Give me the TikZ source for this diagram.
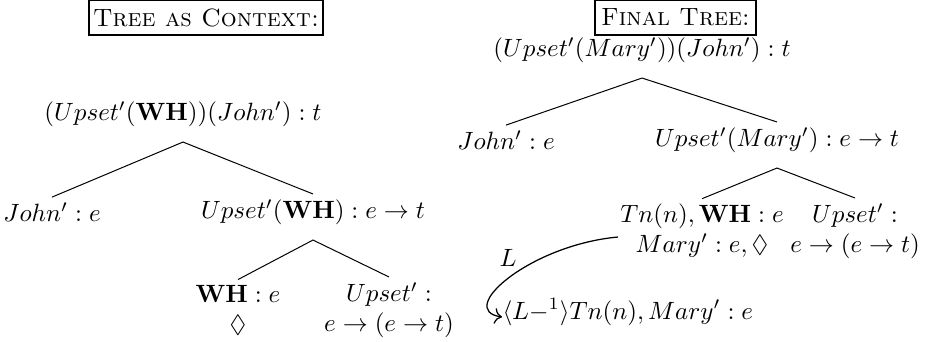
\documentclass[tikz,border=0pt]{standalone}
\usepackage{amssymb}
\usetikzlibrary{arrows.meta}
\begin{document}
\begin{tikzpicture}[x=0.4pt,y=-0.4pt,
  every node/.style={inner sep=0pt},
  titlebox/.style={draw,line width=0.8pt,minimum height=14pt,inner sep=0pt},
  tnode/.style={align=center},
  branch/.style={line width=0.4pt},
  linkarrow/.style={line width=0.5pt,-{To[length=3pt]}}]
\useasboundingbox (0,0) rectangle (931,341);
% titles
\node[titlebox,minimum width=93.6pt] (t1) at (206,17.5) {\textsc{Tree as Context:}};
\node[titlebox,minimum width=64.4pt] (t2) at (675.5,17.5) {\textsc{Final Tree:}};
% left tree
\node (lr) at (183,114) {$(Upset'(\mathbf{WH}))(John') : t$};
\node (lj) at (52,212) {$John' : e$};
\node (lu) at (313,212) {$Upset'(\mathbf{WH}) : e \rightarrow t$};
\node[tnode] (lw) at (238,310) {$\mathbf{WH} : e$\\$\Diamond$};
\node[tnode] (ls) at (389,310) {$Upset' :$\\$e \rightarrow (e \rightarrow t)$};
\draw[branch] ([yshift=2pt]lj.north) -- ([yshift=-6pt]lr.south) -- ([yshift=2pt]lu.north);
\draw[branch] ([yshift=2pt]lw.north) -- ([yshift=-6pt]lu.south) -- ([yshift=2pt]ls.north);
% right tree
\node (rr) at (642,50) {$(Upset'(Mary'))(John') : t$};
\node (rj) at (506,140) {$John' : e$};
\node (ru) at (777,140) {$Upset'(Mary') : e \rightarrow t$};
\node[tnode] (rt) at (702,231) {$Tn(n), \mathbf{WH} : e$\\$Mary' : e, \Diamond$};
\node[tnode] (rs) at (855,231) {$Upset' :$\\$e \rightarrow (e \rightarrow t)$};
\node[anchor=west] (rl) at (502,312) {$\langle L{-}^{1}\rangle Tn(n), Mary' : e$};
\node (lab) at (508,258) {$L$};
\draw[branch] ([yshift=2pt]rj.north) -- ([yshift=-6pt]rr.south) -- ([yshift=2pt]ru.north);
\draw[branch] ([yshift=2pt]rt.north) -- ([yshift=-6pt]ru.south) -- ([yshift=2pt]rs.north);
\coordinate (lstart) at (618,237);
\draw[linkarrow] (lstart) .. controls (530,245) and (455,310) .. ([yshift=-2pt]rl.west);
\end{tikzpicture}
\end{document}
